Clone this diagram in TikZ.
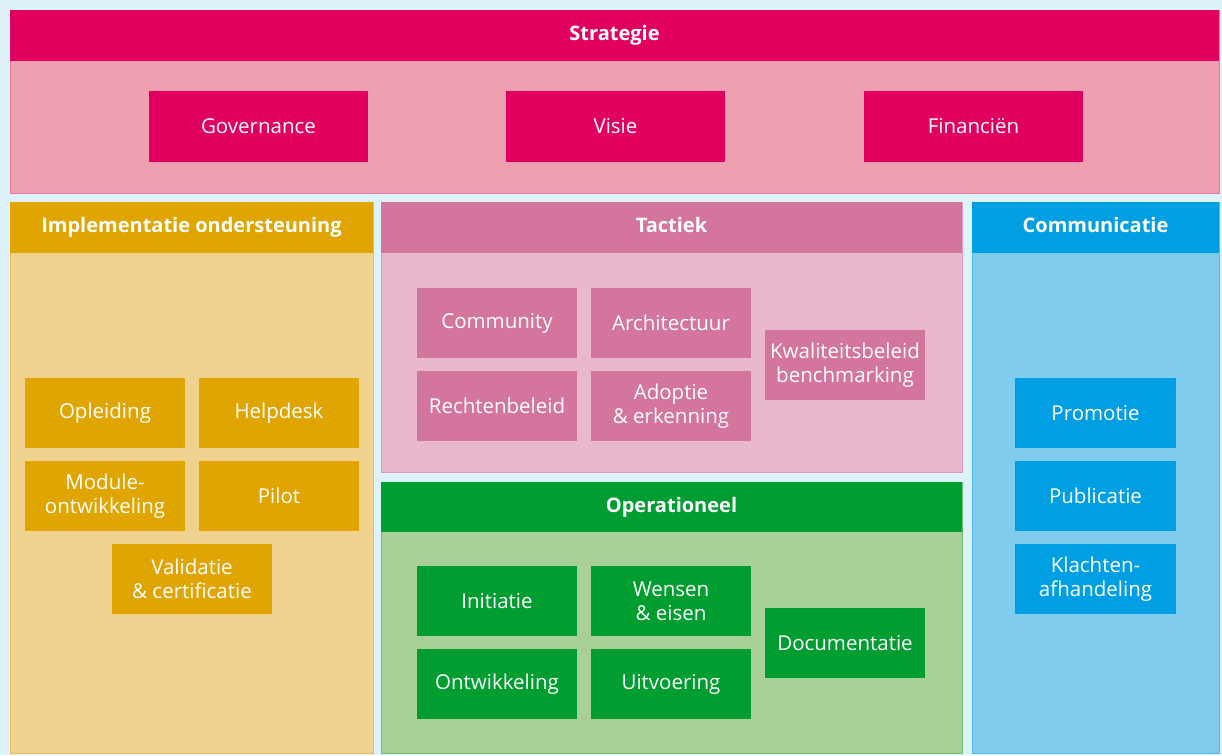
\documentclass[tikz,border=0pt]{standalone}
\usepackage{fontspec}
\setmainfont{Open Sans}
\definecolor{bgc}{HTML}{DDF2F9}
\definecolor{strH}{HTML}{E10060}
\definecolor{strB}{HTML}{EE9FB0}
\definecolor{strL}{HTML}{E5799A}
\definecolor{impH}{HTML}{E0A500}
\definecolor{impB}{HTML}{F0D28F}
\definecolor{impL}{HTML}{E6BE62}
\definecolor{tacH}{HTML}{D4759D}
\definecolor{tacB}{HTML}{E9B8CD}
\definecolor{tacL}{HTML}{DD9AB8}
\definecolor{opeH}{HTML}{009D30}
\definecolor{opeB}{HTML}{A9D096}
\definecolor{opeL}{HTML}{6DBF70}
\definecolor{comH}{HTML}{009FE3}
\definecolor{comB}{HTML}{7FCCEF}
\definecolor{comL}{HTML}{4DB8EA}
\tikzset{
  panel/.style={anchor=north west, inner sep=0pt, outer sep=0pt, line width=1pt},
  hdr/.style={anchor=north west, inner sep=0pt, outer sep=0pt, text=white,
    font=\fontsize{20}{24}\selectfont\bfseries, minimum height=51pt,
    text height=15pt, text depth=5pt},
  item/.style={anchor=north west, inner sep=0pt, outer sep=0pt, text=white, align=center,
    font=\fontsize{20.5}{24}\selectfont, minimum width=160pt, minimum height=70pt},
}
\begin{document}
\begin{tikzpicture}[x=1pt,y=-1pt]
\fill[bgc] (0,0) rectangle (1222,755);
\useasboundingbox (0,0) rectangle (1222,755);
% Strategie
\node[panel, fill=strB, draw=strL, minimum width=1209pt, minimum height=183pt] (strat) at (10,10) {};
\node[hdr, fill=strH, minimum width=1209pt] (strath) at (10,10) {Strategie};
\node[item, fill=strH, minimum width=219pt, minimum height=71pt] (gov) at (149,91) {Governance};
\node[item, fill=strH, minimum width=219pt, minimum height=71pt] (vis) at (506,91) {Visie};
\node[item, fill=strH, minimum width=219pt, minimum height=71pt] (fin) at (864,91) {Financiën};
% Implementatie ondersteuning
\node[panel, fill=impB, draw=impL, minimum width=363pt, minimum height=551pt] (impl) at (10,202) {};
\node[hdr, fill=impH, minimum width=363pt] (implh) at (10,202) {Implementatie ondersteuning};
\node[item, fill=impH] (opl) at (25,378) {Opleiding};
\node[item, fill=impH] (help) at (199,378) {Helpdesk};
\node[item, fill=impH] (mod) at (25,461) {Module-\\ontwikkeling};
\node[item, fill=impH] (pil) at (199,461) {Pilot};
\node[item, fill=impH] (val) at (112,544) {Validatie\\\&~certificatie};
% Tactiek
\node[panel, fill=tacB, draw=tacL, minimum width=581pt, minimum height=270pt] (tact) at (381,202) {};
\node[hdr, fill=tacH, minimum width=581pt] (tacth) at (381,202) {Tactiek};
\node[item, fill=tacH] (comm) at (417,288) {Community};
\node[item, fill=tacH] (arch) at (591,288) {Architectuur};
\node[item, fill=tacH] (recht) at (417,371) {Rechtenbeleid};
\node[item, fill=tacH] (adop) at (591,371) {Adoptie\\\&~erkenning};
\node[item, fill=tacH] (kwal) at (765,330) {Kwaliteitsbeleid\\benchmarking};
% Operationeel
\node[panel, fill=opeB, draw=opeL, minimum width=581pt, minimum height=271pt] (oper) at (381,482) {};
\node[hdr, fill=opeH, minimum width=581pt, minimum height=50pt] (operh) at (381,482) {Operationeel};
\node[item, fill=opeH] (init) at (417,566) {Initiatie};
\node[item, fill=opeH] (wens) at (591,566) {Wensen\\\&~eisen};
\node[item, fill=opeH] (ontw) at (417,649) {Ontwikkeling};
\node[item, fill=opeH] (uitv) at (591,649) {Uitvoering};
\node[item, fill=opeH] (doc) at (765,608) {Documentatie};
% Communicatie
\node[panel, fill=comB, draw=comL, minimum width=247pt, minimum height=551pt] (comm2) at (972,202) {};
\node[hdr, fill=comH, minimum width=247pt] (comh) at (972,202) {Communicatie};
\node[item, fill=comH, minimum width=161pt] (prom) at (1015,378) {Promotie};
\node[item, fill=comH, minimum width=161pt] (publ) at (1015,461) {Publicatie};
\node[item, fill=comH, minimum width=161pt] (klach) at (1015,544) {Klachten-\\afhandeling};
\end{tikzpicture}
\end{document}
